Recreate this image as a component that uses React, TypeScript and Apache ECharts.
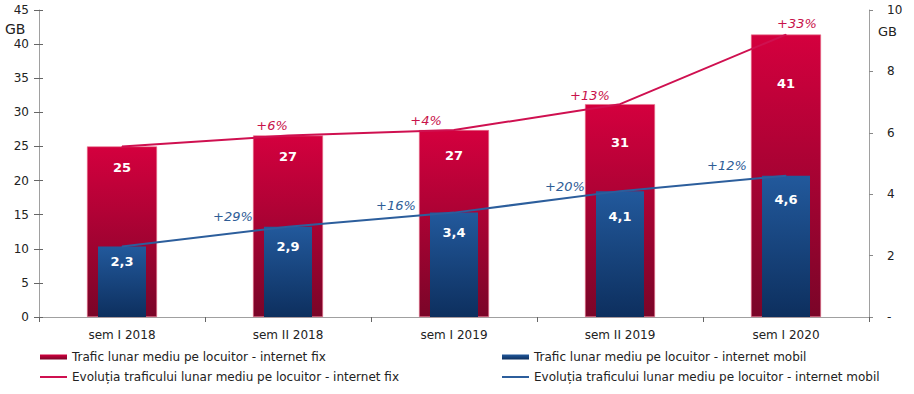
import React, { useEffect, useRef } from 'react';
import * as echarts from 'echarts';

// ---- data ----
const categories = ['sem I 2018', 'sem II 2018', 'sem I 2019', 'sem II 2019', 'sem I 2020'];
const fixTraffic = [25.0, 26.6, 27.4, 31.2, 41.4];
const mobileTraffic = [2.3, 2.94, 3.4, 4.1, 4.6];
const fixGrowth = ['', '+6%', '+4%', '+13%', '+33%'];
const mobileGrowth = ['', '+29%', '+16%', '+20%', '+12%'];
const leftAxis = { min: 0, max: 45, interval: 5 };
const rightAxis = { min: 0, max: 10, interval: 2 };
const unitLabel = 'GB';
const seriesNames = [
  'Trafic lunar mediu pe locuitor - internet fix',
  'Trafic lunar mediu pe locuitor - internet mobil',
  'Evoluția traficului lunar mediu pe locuitor - internet fix',
  'Evoluția traficului lunar mediu pe locuitor - internet mobil',
];

// ---- layout (label placement) ----
const fixLabelDist = [15, 14, 19, 32, 42];
const mobLabelDist = [9, 13, 13, 19, 17];
const fixGrowthOffset = [[0, 0], [-16, -3], [-28, -3], [-30, -2], [11, -4]];
const mobGrowthOffset = [[0, 0], [-55, -3], [-58, 0], [-55, 2], [-59, -3]];

const FONT = 'DejaVu Sans';
const RED = '#cf1050';
const BLUE = '#2c5e9c';
const AXIS_GRAY = '#a0a0a0';
const TXT = '#222';

export default function App() {
  const ref = useRef<HTMLDivElement>(null);

  useEffect(() => {
    if (!ref.current) return;
    const chart = echarts.init(ref.current, undefined, { renderer: 'svg' });

    const redGrad = new echarts.graphic.LinearGradient(0, 0, 0, 1, [
      { offset: 0, color: '#d4003e' },
      { offset: 1, color: '#7a0528' },
    ]);
    const blueGrad = new echarts.graphic.LinearGradient(0, 0, 0, 1, [
      { offset: 0, color: '#22599c' },
      { offset: 1, color: '#0d2f5e' },
    ]);

    const legendBase = {
      orient: 'horizontal',
      padding: 0,
      itemWidth: 27,
      itemStyle: { borderWidth: 0 },
      textStyle: { fontFamily: FONT, fontSize: 12, color: TXT, lineHeight: 14 },
      selectedMode: false,
    };

    const option: any = {
      animation: false,
      textStyle: { fontFamily: FONT },
      grid: { left: 39, right: 45, top: 10, bottom: 77 },
      xAxis: [
        {
          type: 'category',
          data: categories,
          boundaryGap: true,
          axisLine: { show: true, lineStyle: { color: AXIS_GRAY, width: 1 } },
          axisTick: { show: true, length: 5, lineStyle: { color: '#666' } },
          axisLabel: { fontFamily: FONT, fontSize: 12, color: TXT, margin: 12 },
          splitLine: { show: false },
        },
        {
          type: 'category',
          data: categories,
          show: false,
        },
      ],
      yAxis: [
        {
          type: 'value',
          position: 'left',
          min: leftAxis.min,
          max: leftAxis.max,
          interval: leftAxis.interval,
          axisLine: { show: true, lineStyle: { color: AXIS_GRAY } },
          axisTick: { show: true, length: 5, lineStyle: { color: '#666' } },
          axisLabel: { fontFamily: FONT, fontSize: 12, color: TXT, margin: 10 },
          splitLine: { show: false },
        },
        {
          type: 'value',
          position: 'right',
          min: rightAxis.min,
          max: rightAxis.max,
          interval: rightAxis.interval,
          axisLine: { show: true, lineStyle: { color: AXIS_GRAY } },
          axisTick: { show: true, length: 4, lineStyle: { color: '#888' } },
          axisLabel: {
            fontFamily: FONT,
            fontSize: 12,
            color: TXT,
            margin: 18,
            formatter: (v: number) => (v === 0 ? '-' : String(v)),
          },
          splitLine: { show: false },
        },
        {
          type: 'value',
          position: 'left',
          min: leftAxis.min,
          max: leftAxis.max,
          interval: leftAxis.interval,
          axisLine: { show: false },
          axisTick: { show: true, inside: true, length: 4, lineStyle: { color: '#666' } },
          axisLabel: { show: false },
          splitLine: { show: false },
        },
      ],
      legend: [
        { ...legendBase, left: 40, top: 350, icon: 'rect', itemHeight: 5, data: [seriesNames[0]] },
        { ...legendBase, left: 40, top: 370, icon: 'rect', itemHeight: 2, data: [seriesNames[2]] },
        { ...legendBase, left: 502, top: 350, icon: 'rect', itemHeight: 5, data: [seriesNames[1]] },
        { ...legendBase, left: 502, top: 370, icon: 'rect', itemHeight: 2, data: [seriesNames[3]] },
      ],
      graphic: [
        {
          type: 'text',
          left: 5,
          top: 22,
          style: { text: unitLabel, font: `14px "${FONT}"`, fill: TXT },
        },
        {
          type: 'text',
          left: 878,
          top: 25,
          style: { text: unitLabel, font: `13px "${FONT}"`, fill: TXT },
        },
      ],
      series: [
        {
          name: seriesNames[0],
          type: 'bar',
          xAxisIndex: 0,
          yAxisIndex: 0,
          barWidth: 70,
          itemStyle: { color: redGrad, borderColor: '#e8708c', borderWidth: 0.6 },
          label: {
            show: true,
            position: 'insideTop',
            color: '#fff',
            fontWeight: 'bold',
            fontSize: 13,
            fontFamily: FONT,
            formatter: (p: any) => String(Math.round(p.value)),
          },
          data: fixTraffic.map((v, i) => ({ value: v, label: { distance: fixLabelDist[i] } })),
          z: 2,
        },
        {
          name: seriesNames[1],
          type: 'bar',
          xAxisIndex: 1,
          yAxisIndex: 1,
          barWidth: 48,
          itemStyle: { color: blueGrad },
          label: {
            show: true,
            position: 'insideTop',
            color: '#fff',
            fontWeight: 'bold',
            fontSize: 13,
            fontFamily: FONT,
            formatter: (p: any) => Number(p.value).toFixed(1).replace('.', ','),
          },
          data: mobileTraffic.map((v, i) => ({ value: v, label: { distance: mobLabelDist[i] } })),
          z: 3,
        },
        {
          name: seriesNames[2],
          type: 'line',
          xAxisIndex: 0,
          yAxisIndex: 0,
          symbol: 'circle',
          symbolSize: 1,
          itemStyle: { color: RED },
          lineStyle: { color: RED, width: 2 },
          label: {
            show: true,
            position: 'top',
            distance: 0,
            color: '#c8124a',
            fontStyle: 'italic',
            fontSize: 13,
            fontFamily: FONT,
            formatter: (p: any) => fixGrowth[p.dataIndex],
          },
          data: fixTraffic.map((v, i) => ({ value: v, label: { offset: fixGrowthOffset[i] } })),
          z: 4,
        },
        {
          name: seriesNames[3],
          type: 'line',
          xAxisIndex: 0,
          yAxisIndex: 1,
          symbol: 'circle',
          symbolSize: 1,
          itemStyle: { color: BLUE },
          lineStyle: { color: BLUE, width: 2 },
          label: {
            show: true,
            position: 'top',
            distance: 0,
            color: '#2e5d96',
            fontStyle: 'italic',
            fontSize: 13,
            fontFamily: FONT,
            formatter: (p: any) => mobileGrowth[p.dataIndex],
          },
          data: mobileTraffic.map((v, i) => ({ value: v, label: { offset: mobGrowthOffset[i] } })),
          z: 4,
        },
      ],
    };

    chart.setOption(option);
    return () => chart.dispose();
  }, []);

  return <div ref={ref} style={{ width: 914, height: 394, position: 'absolute', left: 0, top: 0 }} />;
}
